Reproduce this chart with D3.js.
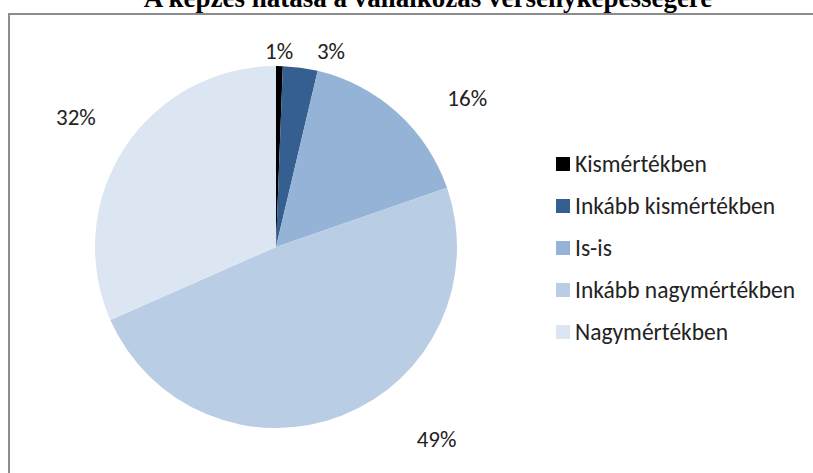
<!DOCTYPE html>
<html>
<head>
<meta charset="utf-8">
<script src="https://cdn.jsdelivr.net/npm/d3@7"></script>
<style>
  body { margin: 0; background: #fff; }
  svg { display: block; }
</style>
</head>
<body>
<div id="pieChart"></div>
<script>
// data (percent)
var categories = ["Kismértékben", "Inkább kismértékben", "Is-is", "Inkább nagymértékben", "Nagymértékben"];
var values = [0.6, 3.1, 16.0, 48.7, 31.6];
var colors = ["#000000", "#365f91", "#95b3d7", "#b9cde5", "#dce6f2"];
var title = "A képzés hatása a vállalkozás versenyképességére";

// label nudges (px) from the outer label arc, like Excel's hand placed labels
var labelNudge = [[-1, 19], [26, 17], [47, 10], [82, -8], [-20, -13]];

var width = 813,
    height = 473;
var cx = 276, cy = 247, radius = 181;
var fontFamily = "Carlito, Lato, 'Open Sans', sans-serif";

var svg = d3.select("#pieChart")
    .append("svg")
    .attr("width", width)
    .attr("height", height);

// title (the top of it is outside the picture, as in the original)
svg.append("text")
    .attr("x", 428)
    .attr("y", 7)
    .attr("text-anchor", "middle")
    .attr("font-family", "'Liberation Serif', 'Times New Roman', serif")
    .attr("font-weight", "bold")
    .attr("font-size", 27)
    .text(title);

// chart frame
svg.append("rect")
    .attr("x", 9)
    .attr("y", 14)
    .attr("width", 830)
    .attr("height", 480)
    .attr("fill", "#fff")
    .attr("stroke", "#8c8c8c")
    .attr("stroke-width", 2);

var z = d3.scaleOrdinal()
    .domain(categories)
    .range(colors);

var pie = d3.pie()
    .sort(null)
    .value(function (d, i) { return values[i]; });

var arcs = pie(categories);

var arc = d3.arc()
    .innerRadius(0)
    .outerRadius(radius);

var labelArc = d3.arc()
    .innerRadius(215)
    .outerRadius(215);

var g = svg.append("g")
    .attr("transform", `translate(${cx} ${cy})`);

g.selectAll("path")
    .data(arcs)
    .enter().append("path")
    .attr("d", arc)
    .attr("fill", function (d) { return z(d.data); });

g.selectAll("text.label")
    .data(arcs)
    .enter().append("text")
    .attr("class", "label")
    .attr("transform", function (d, i) {
        var c = labelArc.centroid(d);
        return `translate(${c[0] + labelNudge[i][0]} ${c[1] + labelNudge[i][1]})`;
    })
    .attr("text-anchor", "middle")
    .attr("dy", "0.35em")
    .attr("font-family", fontFamily)
    .attr("font-size", 23)
    .attr("fill", "#222")
    .text(function (d, i) { return Math.round(values[i]) + "%"; });

// legend
var legend = svg.append("g")
    .attr("font-family", fontFamily)
    .attr("font-size", 23.5)
    .selectAll("g")
    .data(categories)
    .enter().append("g")
    .attr("transform", function (d, i) { return "translate(556," + (164 + i * 42) + ")"; });

legend.append("rect")
    .attr("x", 0)
    .attr("y", -7)
    .attr("width", 14)
    .attr("height", 14)
    .attr("fill", z);

legend.append("text")
    .attr("x", 19)
    .attr("y", 0)
    .attr("dy", "0.35em")
    .attr("fill", "#222")
    .text(function (d) { return d; });
</script>
</body>
</html>
